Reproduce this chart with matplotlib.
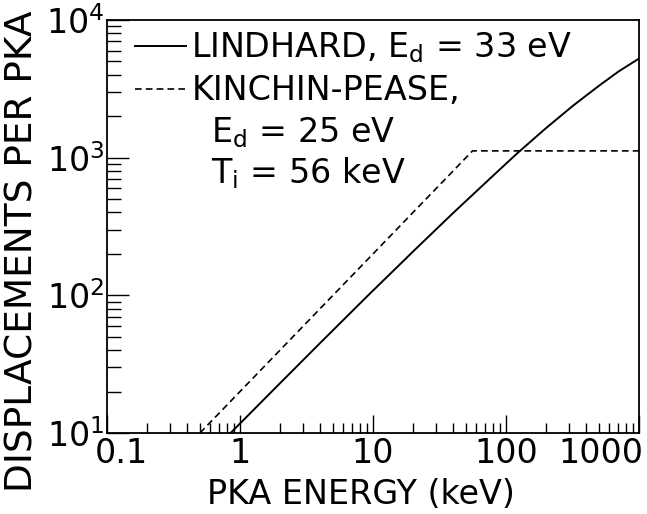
import numpy as np
import matplotlib
matplotlib.use("Agg")
import matplotlib.pyplot as plt
import matplotlib.transforms as mtransforms
from matplotlib.ticker import LogLocator, NullFormatter, FixedLocator, FixedFormatter

plt.rcParams['font.family'] = ['DejaVu Sans']
plt.rcParams['mathtext.fontset'] = 'dejavusans'

# Lindhard (E_d = 33 eV)
lindhard_e = [0.85, 2, 4, 9, 20, 40, 80, 122, 200, 320, 500, 700, 1000]
lindhard_n = [10, 23, 45, 98, 208, 396, 740, 1080, 1640, 2390, 3330, 4220, 5250]

# Kinchin-Pease (E_d = 25 eV, T_i = 56 keV)
kp_e = [0.5, 56, 1000]
kp_n = [10, 1120, 1120]

x_ticks = [0.1, 1, 10, 100, 1000]
x_labels = ["0.1", "1", "10", "100", "1000"]

fig = plt.figure(figsize=(6.47, 5.14), dpi=100)
# axes box: 107..639 px wide, 20..433 px from top
ax = fig.add_axes([107 / 647, 81 / 514, 532 / 647, 413 / 514])

ax.plot(lindhard_e, lindhard_n, color='black', lw=1.4, ls='-',
        label="LINDHARD, $\\mathregular{E_d}$ = 33 eV")
ax.plot(kp_e, kp_n, color='black', lw=1.2, ls=(0, (4, 2.5)),
        label="KINCHIN-PEASE,")

ax.set_xscale('log')
ax.set_yscale('log')
ax.set_xlim(0.1, 1000)
ax.set_ylim(10, 1e4)

ax.xaxis.set_major_locator(FixedLocator(x_ticks))
ax.xaxis.set_major_formatter(FixedFormatter(x_labels))
ax.xaxis.set_minor_locator(LogLocator(base=10, subs=np.arange(2, 10), numticks=20))
ax.xaxis.set_minor_formatter(NullFormatter())
ax.yaxis.set_minor_locator(LogLocator(base=10, subs=np.arange(2, 10), numticks=20))
ax.yaxis.set_minor_formatter(NullFormatter())

ax.tick_params(which='both', direction='in', width=1.0, colors='black',
               top=False, right=False, labelsize=24)
ax.tick_params(axis='x', which='major', length=13, pad=3)
ax.tick_params(axis='x', which='minor', length=7)
ax.tick_params(axis='y', which='major', length=16, pad=2)
ax.tick_params(axis='y', which='minor', length=10)
for sp in ax.spines.values():
    sp.set_linewidth(1.3)

# first and last x labels are pushed inward like in the original
labs = ax.get_xticklabels()
labs[0].set_transform(labs[0].get_transform() +
                      mtransforms.ScaledTranslation(14 / 100, 0, fig.dpi_scale_trans))
labs[-1].set_horizontalalignment('right')
labs[-1].set_transform(labs[-1].get_transform() +
                       mtransforms.ScaledTranslation(4 / 100, 0, fig.dpi_scale_trans))

ax.set_xlabel("PKA ENERGY (keV)", fontsize=24)
ax.xaxis.set_label_coords(0.477, -0.108)
ax.set_ylabel("DISPLACEMENTS PER PKA", fontsize=27)
ax.yaxis.set_label_coords(-0.125, 0.44)

ax.legend(loc='upper left', frameon=False, fontsize=24, handlelength=1.55,
          handletextpad=0.15, labelspacing=0.28, borderpad=0, borderaxespad=0,
          bbox_to_anchor=(0.052, 0.975))

ax.text(0.195, 0.705, "$\\mathregular{E_d}$ = 25 eV", transform=ax.transAxes,
        fontsize=24, va='baseline', ha='left')
ax.text(0.195, 0.605, "$\\mathregular{T_i}$ = 56 keV", transform=ax.transAxes,
        fontsize=24, va='baseline', ha='left')

fig.savefig("out.png", dpi=100)
